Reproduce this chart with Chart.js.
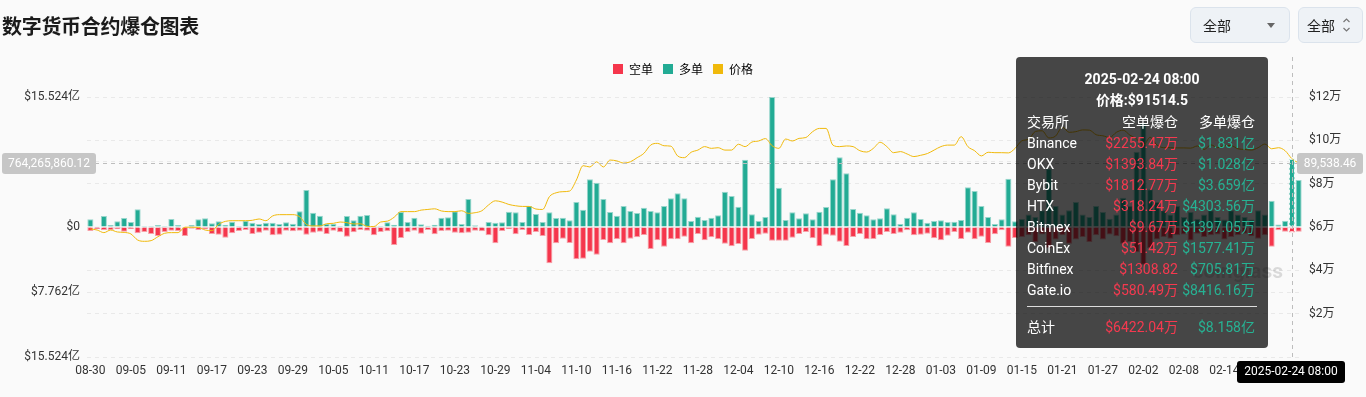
<!DOCTYPE html>
<html>
<head>
<meta charset="utf-8">
<script src="https://cdn.jsdelivr.net/npm/chart.js@4.4.1/dist/chart.umd.min.js"></script>
<style>
  body { margin: 0; background: #fafafa; }
  #wrap { position: relative; width: 1366px; height: 397px; overflow: hidden; }
  #title { position: absolute; left: 2px; top: 12px; font: bold 20px "Noto Sans CJK SC", sans-serif; line-height: 28px; color: #1b1b1b; letter-spacing: -0.3px; }
  .sel { position: absolute; top: 7px; height: 36px; box-sizing: border-box; border: 1px solid #dbe3ec; border-radius: 6px; background: #eef2f6; font: 14px "Noto Sans CJK SC", sans-serif; color: #222; line-height: 34px; }
  #tip { position: absolute; left: 1016px; top: 57px; width: 252px; height: 291px; background: rgba(0,0,0,0.72); border-radius: 4px; color: #fff; font: 14px Roboto, "Noto Sans CJK SC", sans-serif; }
  #tip div { position: absolute; line-height: 21px; white-space: nowrap; }
  canvas { position: absolute; left: 0; top: 0; }
</style>
</head>
<body>
<div id="wrap">
  <canvas id="liq-chart" width="1366" height="397"></canvas>
  <div id="title">数字货币合约爆仓图表</div>
  <div class="sel" style="left:1190px;width:100px;">
    <span style="position:absolute;left:12px;">全部</span>
    <span style="position:absolute;left:76px;top:15px;width:0;height:0;border-left:4px solid transparent;border-right:4px solid transparent;border-top:5px solid #666;"></span>
  </div>
  <div class="sel" style="left:1298px;width:65px;">
    <span style="position:absolute;left:8px;">全部</span>
    <svg style="position:absolute;left:43px;top:9px;" width="9" height="16" viewBox="0 0 9 16">
      <path d="M1.5 5 L4.5 2 L7.5 5 M1.5 11 L4.5 14 L7.5 11" fill="none" stroke="#777" stroke-width="1.2"/>
    </svg>
  </div>
  <div id="tip"></div>
</div>
<script>
// liquidations in millions USD (long = 多单, short = 空单), price in USD
const longLiq = [
  92, 8, 131, 24, 68, 107, 60, 211, 12, 12, 24, 12, 96, 24, 6, 24, 92, 103, 44, 68,
  28, 64, 12, 76, 52, 36, 52, 52, 36, 56, 40, 187, 442, 171, 135, 40, 40, 12, 131, 80,
  135, 143, 12, 12, 56, 28, 179, 60, 111, 32, 16, 28, 111, 115, 187, 36, 334, 20, 8, 60,
  52, 56, 183, 175, 60, 251, 155, 60, 175, 107, 111, 80, 299, 207, 570, 529, 334, 179, 135, 251,
  191, 167, 231, 191, 175, 251, 343, 402, 342, 72, 123, 84, 111, 139, 422, 370, 243, 804, 151, 72,
  119, 1552.4, 470, 84, 175, 103, 163, 92, 183, 239, 569, 832, 641, 215, 171, 139, 92, 103, 223, 151,
  36, 111, 175, 96, 52, 72, 80, 60, 64, 84, 474, 430, 251, 119, 36, 92, 577, 70, 96, 150,
  120, 200, 700, 250, 150, 200, 300, 150, 120, 250, 180, 100, 150, 350, 250, 900, 1240, 450, 300, 200,
  150, 250, 120, 180, 100, 150, 200, 120, 90, 200, 150, 120, 90, 200, 150, 314, 30, 75, 815.8, 561
];
const shortLiq = [
  48, 28, 36, 36, 28, 56, 28, 76, 60, 84, 107, 60, 44, 48, 107, 20, 36, 28, 84, 92,
  127, 76, 48, 36, 84, 68, 44, 100, 92, 44, 52, 44, 92, 68, 56, 84, 44, 64, 115, 64,
  36, 44, 100, 60, 52, 215, 131, 64, 44, 80, 36, 88, 48, 44, 68, 76, 68, 44, 52, 100,
  195, 48, 28, 88, 36, 96, 60, 107, 434, 195, 139, 191, 386, 378, 295, 330, 155, 195, 147, 195,
  139, 123, 96, 263, 159, 235, 147, 147, 115, 195, 84, 159, 123, 147, 199, 231, 203, 283, 143, 92,
  80, 163, 163, 163, 127, 84, 60, 135, 231, 92, 103, 175, 227, 119, 84, 147, 143, 96, 60, 84,
  68, 40, 100, 92, 80, 135, 159, 103, 60, 143, 68, 147, 115, 191, 88, 40, 235, 131, 120, 100,
  180, 90, 250, 150, 100, 200, 150, 120, 180, 100, 150, 90, 110, 200, 180, 300, 450, 250, 150, 120,
  140, 100, 90, 160, 80, 120, 100, 90, 150, 120, 100, 80, 110, 140, 100, 235, 40, 56, 64.2, 56
];
const prices = [
  59100, 58600, 57400, 58600, 57700, 57500, 56800, 54000, 53400, 53700, 55500, 57100, 57400, 57400, 59900, 59900, 59800, 58600, 58300, 61200,
  62600, 62900, 62900, 62900, 63100, 63700, 62900, 65100, 65700, 65700, 65700, 64700, 61200, 60500, 60500, 61500, 61700, 62300, 62000, 61400,
  61500, 60300, 60200, 62300, 62700, 64500, 67100, 67100, 67100, 67800, 68100, 68400, 67400, 67100, 67100, 67500, 66300, 66600, 67500, 70200,
  72100, 71500, 70400, 69800, 69500, 69500, 68300, 68100, 74000, 75800, 76300, 76600, 81700, 88300, 87700, 90100, 87700, 90900, 90500, 89500,
  90100, 92000, 94000, 97800, 98600, 97500, 97300, 92800, 92000, 94500, 95500, 97100, 96300, 96600, 95500, 95500, 98200, 97100, 99200, 99700,
  100800, 97500, 96300, 100600, 99700, 100900, 101300, 104000, 105500, 105500, 97800, 97100, 97400, 97100, 95200, 94600, 96300, 99100, 97100, 94300,
  94800, 93700, 92500, 93100, 93900, 95500, 97100, 97800, 97800, 101700, 97100, 95200, 92800, 94500, 94300, 94300, 94200, 96300, 99800, 100500,
  104100, 104400, 101100, 102000, 106100, 103700, 104000, 104800, 104700, 102600, 102100, 101300, 103700, 104700, 102400, 100600, 97700, 101400, 97900, 96600,
  96600, 96500, 96500, 96400, 97400, 95800, 97900, 96600, 97500, 97600, 96100, 95800, 95500, 96600, 98300, 96100, 96600, 95200, 91514.5, 89500
];
const leftTicks = [1552.4, 776.2, 0, -776.2, -1552.4];
const startDay = "2024-08-30";
const labels = [];
for (let i = 0; i < longLiq.length; i++) {
  const d = new Date(Date.parse(startDay + "T00:00:00Z") + i * 86400000);
  labels.push(String(d.getUTCMonth() + 1).padStart(2, "0") + "-" + String(d.getUTCDate()).padStart(2, "0"));
}

// hovered point
const hoverIndex = 178;
const hoverTime = "2025-02-24 08:00";
const crossLeft = 764.26586012; // millions
const crossLeftText = "764,265,860.12";
const crossRightText = "89,538.46";

// tooltip table
const exchanges = ["Binance", "OKX", "Bybit", "HTX", "Bitmex", "CoinEx", "Bitfinex", "Gate.io"];
const tipShort = ["$2255.47万", "$1393.84万", "$1812.77万", "$318.24万", "$9.67万", "$51.42万", "$1308.82", "$580.49万"];
const tipLong = ["$1.831亿", "$1.028亿", "$3.659亿", "$4303.56万", "$1397.05万", "$1577.41万", "$705.81万", "$8416.16万"];
const tipTotal = ["$6422.04万", "$8.158亿"];

const RED = "#f5364c";
const GREEN = "#22ab94";
const GOLD = "#f0b90b";
const TIP_RED = "#f5394f";
const TIP_GREEN = "#26b293";

let tip = document.getElementById("tip");
let html = `<div style="left:0;width:252px;text-align:center;top:12px;font-weight:bold;">${hoverTime}</div>`;
html += `<div style="left:0;width:252px;text-align:center;top:33px;font-weight:bold;">价格:$${prices[hoverIndex]}</div>`;
html += `<div style="left:11px;top:55px;">交易所</div><div style="right:90px;top:55px;">空单爆仓</div><div style="right:13px;top:55px;">多单爆仓</div>`;
for (let k = 0; k < exchanges.length; k++) {
  let top = 76 + k * 21;
  html += `<div style="left:11px;top:${top}px;">${exchanges[k]}</div>`;
  html += `<div style="right:90px;top:${top}px;color:${TIP_RED}">${tipShort[k]}</div>`;
  html += `<div style="right:13px;top:${top}px;color:${TIP_GREEN}">${tipLong[k]}</div>`;
}
html += `<div style="left:11px;top:249px;width:230px;height:1px;background:#ddd;"></div>`;
html += `<div style="left:11px;top:260px;">总计</div><div style="right:90px;top:260px;color:${TIP_RED}">${tipTotal[0]}</div><div style="right:13px;top:260px;color:${TIP_GREEN}">${tipTotal[1]}</div>`;
tip.innerHTML = html;

function roundRect(ctx, x, y, w, h, r) {
  ctx.beginPath();
  ctx.moveTo(x + r, y);
  ctx.arcTo(x + w, y, x + w, y + h, r);
  ctx.arcTo(x + w, y + h, x, y + h, r);
  ctx.arcTo(x, y + h, x, y, r);
  ctx.arcTo(x, y, x + w, y, r);
  ctx.closePath();
}

const legendGap = {
  id: "legendGap",
  beforeInit(chart) {
    const fit = chart.legend.fit;
    chart.legend.fit = function () {
      fit.bind(chart.legend)();
      this.height += 12;
    };
  },
};

const watermark = {
  id: "watermark",
  beforeDatasetsDraw(chart) {
    const ctx = chart.ctx;
    ctx.save();
    ctx.font = "bold 21px Roboto, sans-serif";
    ctx.fillStyle = "rgba(0,0,0,0.13)";
    ctx.textAlign = "right";
    ctx.textBaseline = "middle";
    ctx.fillText("coinglass", 1283, 273);
    ctx.restore();
  },
};

const crosshair = {
  id: "crosshair",
  afterDraw(chart) {
    const ctx = chart.ctx;
    const area = chart.chartArea;
    const y = Math.round(chart.scales.y.getPixelForValue(crossLeft));
    const x = Math.round(chart.scales.x.getPixelForValue(hoverIndex));
    ctx.save();
    // hovered bars
    ctx.setLineDash([3, 2]);
    ctx.strokeStyle = "rgba(255,255,255,0.9)";
    ctx.lineWidth = 1;
    [0, 1].forEach((ds) => {
      const b = chart.getDatasetMeta(ds).data[hoverIndex];
      ctx.strokeRect(Math.round(b.x - b.width / 2) + 0.5, Math.min(b.y, b.base) + 0.5, Math.round(b.width) - 1, Math.abs(b.base - b.y) - 1);
    });
    // lines
    ctx.strokeStyle = "#bdbdbd";
    ctx.setLineDash([4, 4]);
    ctx.beginPath();
    ctx.moveTo(area.left, y + 0.5);
    ctx.lineTo(area.right, y + 0.5);
    ctx.moveTo(x + 0.5, 57);
    ctx.lineTo(x + 0.5, area.bottom + 4);
    ctx.stroke();
    ctx.setLineDash([]);
    // labels
    ctx.font = "12px Roboto, sans-serif";
    ctx.textAlign = "center";
    ctx.textBaseline = "middle";
    ctx.fillStyle = "#c6c6c6";
    roundRect(ctx, 2, y - 10, 94, 21, 3);
    ctx.fill();
    roundRect(ctx, 1297, y - 10, 66, 21, 3);
    ctx.fill();
    ctx.fillStyle = "#fff";
    ctx.fillText(crossLeftText, 49, y + 1);
    ctx.fillText(crossRightText, 1330, y + 1);
    ctx.fillStyle = "#000";
    roundRect(ctx, 1237, 361, 108, 22, 3);
    ctx.fill();
    ctx.fillStyle = "#fff";
    ctx.fillText(hoverTime, 1291, 372);
    ctx.restore();
  },
};

const chart = new Chart(document.getElementById("liq-chart").getContext("2d"), {
  type: "bar",
  data: {
    labels: labels,
    datasets: [
      {
        label: "空单",
        data: shortLiq.map((v) => -v),
        backgroundColor: RED,
        borderColor: "rgba(242,54,69,0.45)",
        borderWidth: 1,
        yAxisID: "y",
        stack: "liq",
        order: 1,
      },
      {
        label: "多单",
        data: longLiq,
        backgroundColor: GREEN,
        borderColor: "rgba(34,171,148,0.45)",
        borderWidth: 1,
        yAxisID: "y",
        stack: "liq",
        order: 1,
      },
      {
        type: "line",
        label: "价格",
        data: prices,
        borderColor: GOLD,
        backgroundColor: GOLD,
        borderWidth: 1,
        pointRadius: 0,
        cubicInterpolationMode: "monotone",
        yAxisID: "y1",
        order: 0,
      },
    ],
  },
  options: {
    animation: false,
    responsive: false,
    maintainAspectRatio: false,
    datasets: { bar: { barPercentage: 0.9, categoryPercentage: 1 } },
    layout: { padding: { top: 53, left: 0, right: 0, bottom: 0 } },
    plugins: {
      tooltip: { enabled: false },
      legend: {
        position: "top",
        labels: {
          boxWidth: 10,
          boxHeight: 10,
          padding: 10,
          color: "#333",
          font: { size: 12, family: "'Noto Sans CJK SC', sans-serif" },
          generateLabels: (c) =>
            c.data.datasets.map((d, i) => ({
              text: d.label,
              fillStyle: [RED, GREEN, GOLD][i],
              strokeStyle: [RED, GREEN, GOLD][i],
              lineWidth: 0,
              hidden: false,
              datasetIndex: i,
            })),
        },
      },
    },
    scales: {
      x: {
        stacked: true,
        grid: { display: false, drawTicks: false },
        border: { display: false },
        afterFit: (s) => { s.height = 40; },
        ticks: {
          autoSkip: false,
          maxRotation: 0,
          padding: 7,
          color: "#333",
          font: { size: 12, family: "Roboto, sans-serif" },
          callback: (v, i) => (i % 6 === 0 ? labels[i] : ""),
        },
      },
      y: {
        stacked: true,
        position: "left",
        min: leftTicks[4],
        max: leftTicks[0],
        afterBuildTicks: (s) => { s.ticks = leftTicks.map((v) => ({ value: v })); },
        afterFit: (s) => { s.width = 87; },
        grid: { color: "#e9e9e9", drawTicks: false },
        border: { display: false, dash: [4, 4] },
        ticks: {
          padding: 7,
          color: "#333",
          font: { size: 12, family: "Roboto, 'Noto Sans CJK SC', sans-serif" },
          callback: (v) => (v === 0 ? "$0" : "$" + (Math.abs(v) / 100).toFixed(3) + "亿"),
        },
      },
      y1: {
        position: "right",
        min: 0,
        max: 120000,
        afterFit: (s) => { s.width = 64; },
        grid: { color: "#e9e9e9", drawTicks: false },
        border: { display: false, dash: [4, 4] },
        ticks: {
          stepSize: 20000,
          padding: 7,
          color: "#333",
          font: { size: 12, family: "Roboto, 'Noto Sans CJK SC', sans-serif" },
          callback: (v) => (v === 0 ? "" : "$" + v / 10000 + "万"),
        },
      },
    },
  },
  plugins: [legendGap, watermark, crosshair],
});
</script>
</body>
</html>
